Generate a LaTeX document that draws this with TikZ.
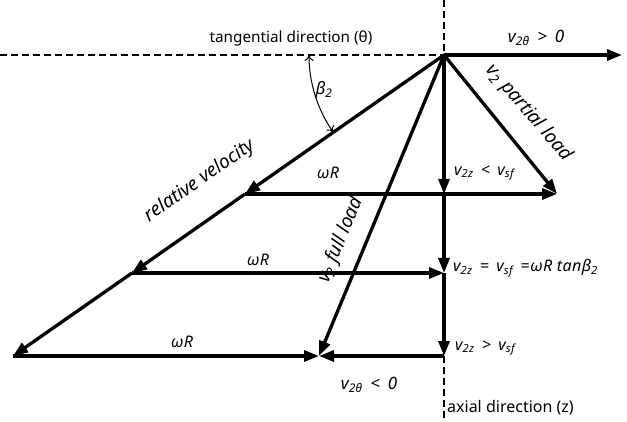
\documentclass[tikz,border=0pt]{standalone}
\usepackage{fontspec}
\setmainfont{Noto Sans}
\newfontfamily\labfont[LetterSpace=3]{Noto Sans}
\usetikzlibrary{arrows.meta,calc}
\newcommand\sbx[1]{\textsubscript{#1}}
\begin{document}
\begin{tikzpicture}[x=1pt,y=-1pt,
  vec/.style={line width=3.3pt,-{Triangle[length=15pt,width=11pt]}},
  guide/.style={line width=1.1pt,dash pattern=on 7pt off 4pt},
  lbl/.style={font=\labfont\fontsize{16}{18}\selectfont\itshape,inner sep=0pt},
  big/.style={font=\fontsize{19}{21}\selectfont\itshape,inner sep=0pt},
  plain/.style={font=\fontsize{16}{18}\selectfont,inner sep=0pt}]
\useasboundingbox (0,0) rectangle (627,422);
% points
\coordinate (O) at (444,55);
\coordinate (T) at (622,55);
\coordinate (L) at (0,55);
\coordinate (Up) at (444,0);
\coordinate (Dn) at (444,422);
\coordinate (A1) at (245,194);
\coordinate (A2) at (132,273);
\coordinate (A3) at (13,356);
\coordinate (Z1) at (444,194);
\coordinate (Z2) at (444,273);
\coordinate (Z3) at (444,356);
\coordinate (P) at (557,194);
\coordinate (F) at (319,356);
\coordinate (B) at (309,55);
% guides
\draw[guide] (L) -- (O);
\draw[guide] (Up) -- (O);
\draw[guide] (Z3) -- (Dn);
% vectors
\draw[vec] (O) -- (T);
\draw[vec] (O) -- (A1);
\draw[vec] (A1) -- (A2);
\draw[vec] (A2) -- (A3);
\draw[vec] (O) -- (Z1);
\draw[vec] (Z1) -- (Z2);
\draw[vec] (Z2) -- (Z3);
\draw[vec] (O) -- (P);
\draw[vec] (O) -- (F);
\draw[vec] (A1) -- (P);
\draw[vec] (A2) -- (Z2);
\draw[vec] (A3) -- (F);
\draw[vec] (Z3) -- (F);
% beta arc
\draw[line width=1pt,{To[length=6pt,width=9pt]}-{To[length=6pt,width=9pt]}] (B) arc[start angle=180,end angle=214.9,radius=135pt];
% labels
\node[plain,font=\fontsize{15.3}{18}\selectfont] (tl) at (291,38) {tangential direction (θ)};
\node[lbl,font=\labfont\fontsize{17}{19}\selectfont\itshape] (l1) at (536,38) {v\sbx{2θ} \,>\, 0};
\node[big,rotate=-49] (l2) at (529,113) {v\sbx{2} partial load};
\node[big,rotate=34.9] (l3) at (200,181) {relative velocity};
\node[lbl] (w1) at (328,173) {ωR};
\node[lbl] (w2) at (258,260) {ωR};
\node[lbl] (w3) at (182,342) {ωR};
\node[lbl,anchor=west] (l4) at (454,173) {v\sbx{2z} \,<\, v\sbx{sf}};
\node[lbl,anchor=west] (l5) at (453,268) {v\sbx{2z} \,=\, v\sbx{sf} \,=ωR tanβ\sbx{2}};
\node[lbl,anchor=west] (l6) at (455,348) {v\sbx{2z} \,>\, v\sbx{sf}};
\node[big,rotate=67.4] (l7) at (341,240) {v\sbx{2} full load};
\node[lbl,font=\labfont\fontsize{17}{19}\selectfont\itshape] (l8) at (369,385) {v\sbx{2θ} \,<\, 0};
\node[plain,anchor=west] (l9) at (447,408) {axial direction (z)};
\node[lbl,font=\fontsize{17}{19}\selectfont\itshape] (b2) at (324,90) {β\sbx{2}};
\end{tikzpicture}
\end{document}
